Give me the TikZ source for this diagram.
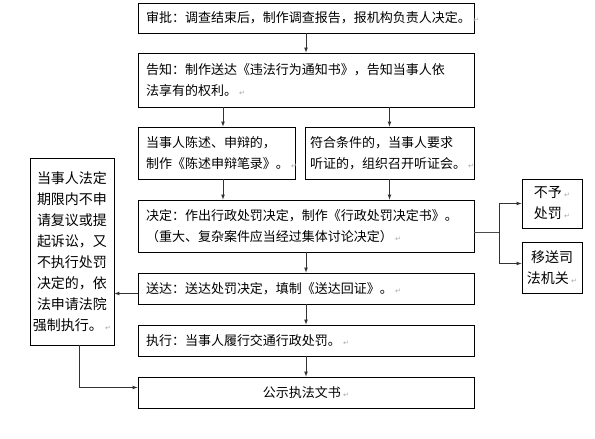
\documentclass[tikz,border=0pt]{standalone}
\usepackage{fontspec}
\setmainfont{Noto Sans CJK SC}
\newfontfamily\marksfont{DejaVu Sans}
\newcommand{\pmark}{\,{\marksfont\fontsize{7}{7}\selectfont\color{black!35}↵}}
\newcommand{\boxfont}{\fontsize{13}{20.5}\selectfont}
\newcommand{\sidefont}{\fontsize{14}{21}\selectfont}

\tikzset{
  stage/.style={draw, line width=0.8pt, inner xsep=8pt, inner ysep=0pt, align=left, font=\boxfont},
  sidebox/.style={draw, line width=0.8pt, inner sep=0pt, align=center, font=\sidefont},
  flow/.style={->, >=latex, draw=black!80, line width=0.7pt},
  link/.style={draw=black!70, line width=0.7pt}
}

\begin{document}
\begin{tikzpicture}[x=1pt,y=-1pt]
\useasboundingbox (0,0) rectangle (595,439);

% Main column of stages
\node[stage, text width=320pt, minimum height=30pt] (shenpi) at (306,18)
  {审批：调查结束后，制作调查报告，报机构负责人决定。\pmark};
\node[stage, text width=320pt, minimum height=54pt] (gaozhi) at (306,80)
  {告知：制作送达《违法行为通知书》，告知当事人依\\法享有的权利。\pmark};
\node[stage, text width=141pt, minimum height=52pt] (chenshu) at (216.5,153)
  {当事人陈述、申辩的，\\制作《陈述申辩笔录》。\pmark};
\node[stage, inner xsep=5pt, text width=159pt, minimum height=52pt] (tingzheng) at (389.5,153)
  {符合条件的，当事人要求\\听证的，组织召开听证会。\pmark};
\node[stage, text width=320pt, minimum height=52pt] (jueding) at (306,226)
  {决定：作出行政处罚决定，制作《行政处罚决定书》。\\（重大、复杂案件应当经过集体讨论决定）\pmark};
\node[stage, text width=320pt, minimum height=31pt] (songda) at (306,288.5)
  {送达：送达处罚决定，填制《送达回证》。\pmark};
\node[stage, text width=320pt, minimum height=31pt] (zhixing) at (306,340.5)
  {执行：当事人履行交通行政处罚。\pmark};
\node[stage, align=center, text width=320pt, minimum height=31pt] (gongshi) at (306,392.5)
  {公示执法文书\pmark};

% Side boxes
\node[sidebox, minimum width=84pt, minimum height=187pt] (qiangzhi) at (72,251.5)
  {当事人法定\\期限内不申\\请复议或提\\起诉讼，又\\不执行处罚\\决定的，依\\法申请法院\\强制执行。\pmark};
\node[sidebox, minimum width=60pt, minimum height=49pt] (buyu) at (552,203.5)
  {不予\pmark\\处罚\pmark};
\node[sidebox, minimum width=60pt, minimum height=51pt] (yisong) at (552,267.5)
  {移送司\\法机关\pmark};

% Arrows down the main column
\draw[flow] (shenpi) -- (gaozhi);
\draw[flow] ([xshift=6.5pt]chenshu.north |- gaozhi.south) -- ([xshift=6.5pt]chenshu.north);
\draw[flow] (tingzheng.north |- gaozhi.south) -- (tingzheng.north);
\draw[flow] ([xshift=6.5pt]chenshu.south) -- ([xshift=6.5pt]chenshu.south |- jueding.north);
\draw[flow] (tingzheng.south) -- (tingzheng.south |- jueding.north);
\draw[flow] (jueding) -- (songda);
\draw[flow] (songda) -- (zhixing);
\draw[flow] (zhixing) -- (gongshi);

% Branch to the right
\coordinate (fork) at (499,232);
\draw[link] ([yshift=-6pt]jueding.east) -- (fork);
\draw[flow] (fork) |- (buyu.west);
\draw[flow] (fork) |- ([yshift=4pt]yisong.west);

% Enforcement loop on the left
\draw[flow] ([yshift=-5pt]songda.west) -- ([yshift=-5pt]songda.west -| qiangzhi.east);
\draw[flow] ([xshift=7pt]qiangzhi.south) |- ([yshift=5pt]gongshi.west);

\end{tikzpicture}
\end{document}
